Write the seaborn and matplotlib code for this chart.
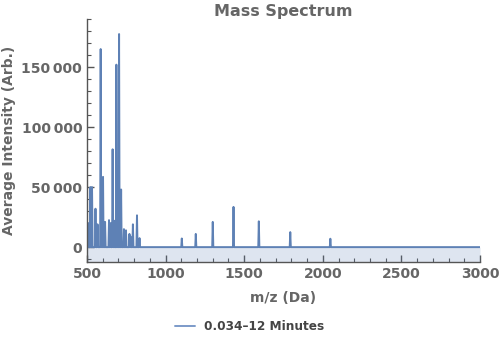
import numpy as np
import pandas as pd
import matplotlib
matplotlib.use("Agg")
import matplotlib.pyplot as plt
from matplotlib.ticker import MultipleLocator, FuncFormatter
import seaborn as sns

# Centroided peak list: m/z (Da) and averaged intensity (arb.)
peak_mz = [510, 522, 532, 554, 567, 587, 592, 602, 615, 640, 650, 663, 672,
           687, 692, 704, 717, 735, 748, 770, 776, 792, 818, 834,
           1103, 1192, 1300, 1432, 1593, 1793, 2048]
peak_intensity = [20000, 50000, 50000, 32000, 19000, 165000, 52000, 58500,
                  21000, 22500, 20000, 81500, 22000, 152000, 60000, 177500,
                  48000, 15000, 14000, 11000, 9000, 19000, 26500, 7500,
                  7200, 11000, 21000, 33500, 21500, 12500, 7000]
mz_range = [500, 3000]
series_label = "0.034\u201312 Minutes"

# Expand each centroid into a narrow stick on a zero baseline
half_width = 3.5
xs, ys = [mz_range[0]], [0.0]
for m, h in sorted(zip(peak_mz, peak_intensity)):
    xs += [m - half_width, m, m + half_width]
    ys += [0.0, h, 0.0]
xs.append(mz_range[1])
ys.append(0.0)
spectrum = pd.DataFrame({"mz": xs, "intensity": ys})

sns.set_theme(style="white")
plt.rcParams["font.family"] = ["DejaVu Sans"]

line_color = "#5E81B5"
text_color = "#666666"
axis_color = "#555555"
ymin, ymax = -12500, 190000

fig = plt.figure(figsize=(5.0, 3.4), dpi=100)
ax = fig.add_axes([0.174, 0.229, 0.786, 0.715])

sns.lineplot(data=spectrum, x="mz", y="intensity", ax=ax, sort=False,
             estimator=None, color=line_color, lw=1.4, label=series_label,
             legend=False)
ax.fill_between(spectrum["mz"], spectrum["intensity"], ymin,
                color=line_color, alpha=0.2, lw=0)

ax.set_xlim(*mz_range)
ax.set_ylim(ymin, ymax)

ax.xaxis.set_major_locator(MultipleLocator(500))
ax.xaxis.set_minor_locator(MultipleLocator(100))
ax.yaxis.set_major_locator(MultipleLocator(50000))
ax.yaxis.set_minor_locator(MultipleLocator(10000))
ax.yaxis.set_major_formatter(FuncFormatter(
    lambda v, p: f"{int(v):,}".replace(",", "\u2009")))

ax.tick_params(axis="both", which="both", direction="in", color=axis_color,
               labelcolor=text_color, labelsize=10, bottom=True, left=True)
ax.tick_params(which="major", length=5, width=1)
ax.tick_params(which="minor", length=3, width=0.8)
for lbl in ax.get_xticklabels() + ax.get_yticklabels():
    lbl.set_fontweight("bold")

for side in ("top", "right"):
    ax.spines[side].set_visible(False)
for side in ("left", "bottom"):
    ax.spines[side].set_color(axis_color)
    ax.spines[side].set_linewidth(1)

ax.set_xlabel("m/z (Da)", fontsize=10, fontweight="bold", color=text_color,
              labelpad=7)
ax.set_ylabel("Average Intensity (Arb.)", fontsize=10, fontweight="bold",
              color=text_color, labelpad=4)
ax.set_title("Mass Spectrum", fontsize=11.5, fontweight="bold",
             color=text_color, pad=2)

handles, labels = ax.get_legend_handles_labels()
leg = fig.legend(handles, labels, loc="lower center",
                 bbox_to_anchor=(0.5, -0.012), frameon=False, fontsize=8.7,
                 handlelength=1.6)
leg.get_lines()[0].set_color("#7C9AC9")
for t in leg.get_texts():
    t.set_fontweight("bold")
    t.set_color("#444444")

fig.savefig("out.png", dpi=100)
